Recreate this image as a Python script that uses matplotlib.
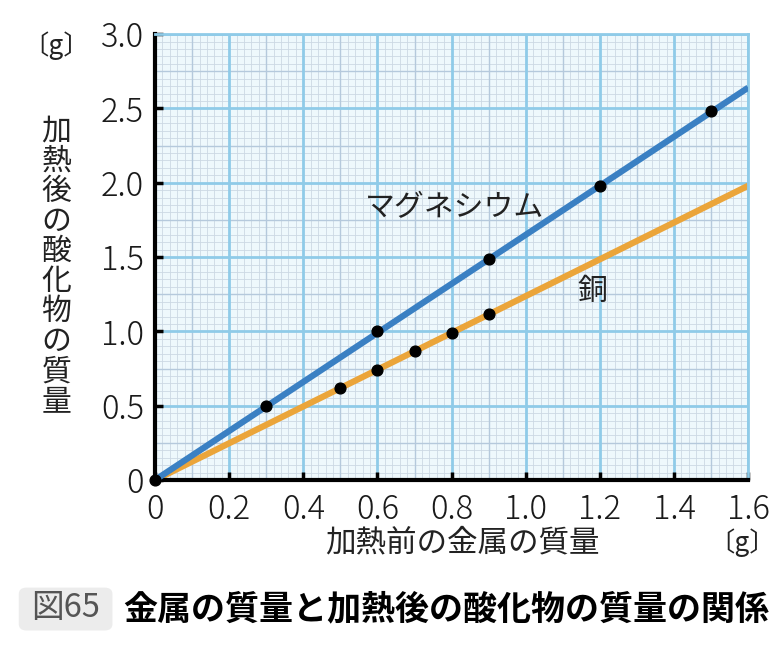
import numpy as np
import matplotlib.pyplot as plt
from matplotlib.patches import FancyBboxPatch

plt.rcParams['font.family'] = ['Noto Sans CJK JP', 'DejaVu Sans']

# measured points
mg_x = [0, 0.3, 0.6, 0.9, 1.2, 1.5]
mg_y = [0, 0.50, 1.00, 1.49, 1.98, 2.48]
cu_x = [0.5, 0.6, 0.7, 0.8, 0.9]
cu_y = [0.62, 0.74, 0.87, 0.99, 1.12]

# fitted lines (through the origin)
mg_line_x = [0, 1.6]
mg_line_y = [0, 2.64]
cu_line_x = [0, 1.6]
cu_line_y = [0, 1.98]

xticks = [0, 0.2, 0.4, 0.6, 0.8, 1.0, 1.2, 1.4, 1.6]
xticklabels = ['0', '0.2', '0.4', '0.6', '0.8', '1.0', '1.2', '1.4', '1.6']
yticks = [0, 0.5, 1.0, 1.5, 2.0, 2.5, 3.0]
yticklabels = ['0', '0.5', '1.0', '1.5', '2.0', '2.5', '3.0']

blue = '#3a80c3'
orange = '#eba53a'
grid_major = '#8fcbe8'
grid_mid = '#b5c9dc'
grid_minor = '#ccd8e4'

fig = plt.figure(figsize=(7.81, 6.5), dpi=100)
ax = fig.add_axes([0.1985, 0.2615, 0.7595, 0.686])
ax.set_facecolor('#eef8fc')

ax.set_xlim(0, 1.6)
ax.set_ylim(0, 3.0)

# graph paper grid
for v in np.arange(0, 1.6001, 0.02):
    ax.axvline(v, color=grid_minor, lw=0.6, zorder=0)
for v in np.arange(0, 3.0001, 0.05):
    ax.axhline(v, color=grid_minor, lw=0.6, zorder=0)
for v in np.arange(0.1, 1.6, 0.2):
    ax.axvline(v, color=grid_mid, lw=1.0, zorder=0)
for v in np.arange(0.25, 3.0, 0.5):
    ax.axhline(v, color=grid_mid, lw=1.0, zorder=0)
for v in xticks[1:]:
    ax.axvline(v, color=grid_major, lw=2.0, zorder=0)
for v in yticks[1:]:
    ax.axhline(v, color=grid_major, lw=2.0, zorder=0)

ax.plot(cu_line_x, cu_line_y, color=orange, lw=4.5, solid_capstyle='butt', zorder=2)
ax.plot(mg_line_x, mg_line_y, color=blue, lw=4.5, solid_capstyle='butt', zorder=3)
ax.scatter(mg_x, mg_y, s=60, color='black', zorder=5, clip_on=False)
ax.scatter(cu_x, cu_y, s=60, color='black', zorder=5)

ax.text(0.565, 1.83, 'マグネシウム', fontsize=21.5, color='#222222', ha='left', va='center')
ax.text(1.18, 1.27, '銅', fontsize=21.5, color='#222222', ha='center', va='center')

for s in ['top', 'right']:
    ax.spines[s].set_color(grid_major)
    ax.spines[s].set_linewidth(2.0)
for s in ['left', 'bottom']:
    ax.spines[s].set_color('black')
    ax.spines[s].set_linewidth(3.0)

ax.set_xticks(xticks)
ax.set_xticklabels(xticklabels)
ax.set_yticks(yticks)
ax.set_yticklabels(yticklabels)
ax.tick_params(direction='in', length=6, width=2.5, color='black',
               labelsize=23.5, labelcolor='#1a1a1a')
ax.tick_params(axis='x', pad=9)
ax.tick_params(axis='y', pad=8)
for lbl in ax.get_xticklabels() + ax.get_yticklabels():
    lbl.set_fontweight('light')

# axis titles
fig.text(0.072, 0.93, '〔g〕', fontsize=19, color='#222222', ha='center', va='center')
fig.text(0.072, 0.59, '\n'.join('加熱後の酸化物の質量'), fontsize=21.5,
         color='#222222', ha='center', va='center', linespacing=0.96)
fig.text(0.592, 0.165, '加熱前の金属の質量', fontsize=22, color='#222222',
         ha='center', va='center')
fig.text(0.95, 0.165, '〔g〕', fontsize=19, color='#222222', ha='center', va='center')

# caption
box = FancyBboxPatch((0.028, 0.034), 0.112, 0.058, boxstyle='round,pad=0.004,rounding_size=0.01',
                     transform=fig.transFigure, facecolor='#ececec', edgecolor='none')
fig.patches.append(box)
fig.text(0.084, 0.064, '図65', fontsize=23.5, color='#555555', ha='center', va='center')
fig.text(0.158, 0.064, '金属の質量と加熱後の酸化物の質量の関係', fontsize=24.5,
         fontweight='bold', color='black', ha='left', va='center')

plt.savefig('out.png', dpi=100)
